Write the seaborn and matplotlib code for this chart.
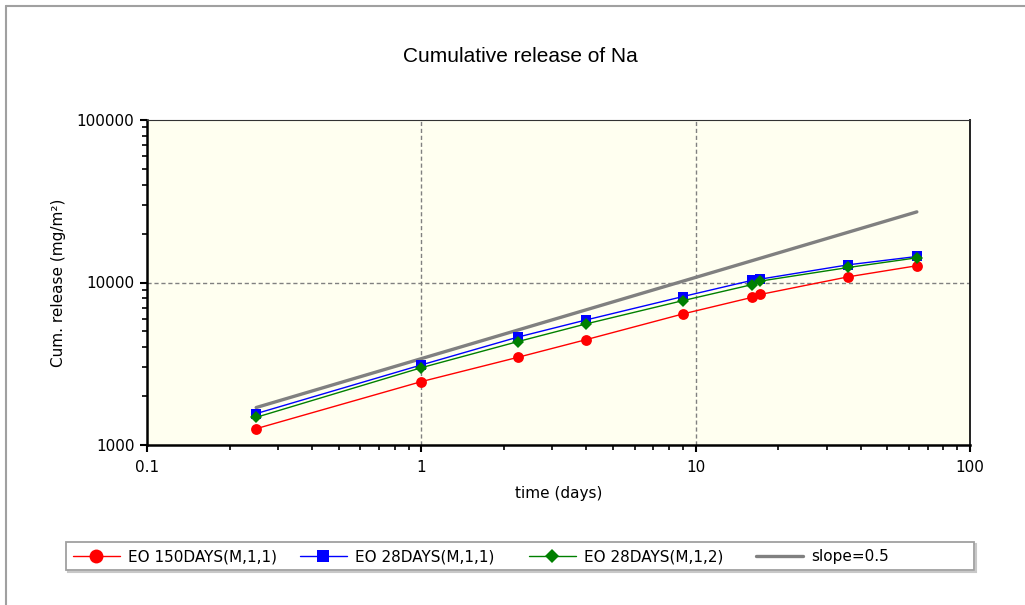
import numpy as np
import pandas as pd
import matplotlib
matplotlib.use("Agg")
import matplotlib.pyplot as plt
import matplotlib.ticker as mticker
from matplotlib.patches import Rectangle
import seaborn as sns

# Leaching times (days) and cumulative Na release (mg/m²)
time_days = [0.25, 1, 2.25, 4, 9, 16, 17.2, 36, 64]
eo150_m11 = [1260, 2455, 3465, 4456, 6410, 8090, 8440, 10840, 12680]
eo28_m11 = [1560, 3110, 4615, 5890, 8200, 10300, 10490, 12850, 14460]
eo28_m12 = [1480, 2990, 4330, 5570, 7740, 9690, 10200, 12370, 14190]
slope_time = [0.25, 64]
slope_values = [1700, 27200]

series_names = ["EO 150DAYS(M,1,1)", "EO 28DAYS(M,1,1)", "EO 28DAYS(M,1,2)"]
series_values = [eo150_m11, eo28_m11, eo28_m12]
x_ticks = [0.1, 1, 10, 100]
x_tick_labels = ["0.1", "1", "10", "100"]
y_ticks = [1000, 10000, 100000]
y_tick_labels = ["1000", "10000", "100000"]

sns.set_style("white")
plt.rcParams["font.family"] = ["DejaVu Sans"]
plt.rcParams["text.color"] = "black"
plt.rcParams["axes.labelcolor"] = "black"
plt.rcParams["xtick.color"] = "black"
plt.rcParams["ytick.color"] = "black"

W, H = 1025, 605
fig = plt.figure(figsize=(W / 100, H / 100), dpi=100)
ax = fig.add_axes([147 / W, 1 - 445 / H, 823 / W, 325 / H])
ax.set_facecolor("#FFFFF0")

styles = [
    dict(color="#FF0000", marker="o", markersize=7.8, legend_size=10),
    dict(color="#0000FF", marker="s", markersize=7.5, legend_size=9),
    dict(color="#008000", marker="D", markersize=6.0, legend_size=7.5),
]

for name, vals, st in zip(series_names, series_values, styles):
    df = pd.DataFrame({"time": time_days, "release": vals})
    sns.lineplot(data=df, x="time", y="release", ax=ax, label=name,
                 color=st["color"], marker=st["marker"],
                 markersize=st["markersize"], markeredgewidth=0,
                 linewidth=1.0, zorder=3)

slope_df = pd.DataFrame({"time": slope_time, "release": slope_values})
sns.lineplot(data=slope_df, x="time", y="release", ax=ax, label="slope=0.5",
             color="#808080", linewidth=2.4, zorder=2)

ax.set_xscale("log")
ax.set_yscale("log")
ax.set_xlim(0.1, 100)
ax.set_ylim(1000, 100000)

ax.xaxis.set_major_locator(mticker.FixedLocator(x_ticks))
ax.xaxis.set_major_formatter(mticker.FixedFormatter(x_tick_labels))
ax.yaxis.set_major_locator(mticker.FixedLocator(y_ticks))
ax.yaxis.set_major_formatter(mticker.FixedFormatter(y_tick_labels))
ax.xaxis.set_minor_locator(mticker.LogLocator(base=10, subs=np.arange(2, 10)))
ax.yaxis.set_minor_locator(mticker.LogLocator(base=10, subs=np.arange(2, 10)))
ax.xaxis.set_minor_formatter(mticker.NullFormatter())
ax.yaxis.set_minor_formatter(mticker.NullFormatter())

ax.tick_params(axis="both", which="major", direction="out", length=5, width=1.5,
               labelsize=11, color="black", labelcolor="black",
               bottom=True, left=True, pad=4)
ax.tick_params(axis="x", which="major", pad=6)
ax.tick_params(axis="both", which="minor", direction="out", length=3.5, width=1.2,
               color="black", bottom=True, left=True)

# Dashed grid at the decades inside the plot area
for xv in [1, 10]:
    ax.axvline(xv, color="#808080", linestyle=(0, (3, 2)), linewidth=1.0, zorder=1)
ax.axhline(10000, color="#808080", linestyle=(0, (3, 2)), linewidth=1.0, zorder=1)

for side in ["left", "bottom"]:
    ax.spines[side].set_linewidth(1.8)
    ax.spines[side].set_color("black")
ax.spines["top"].set_linewidth(0.8)
ax.spines["top"].set_color("#333333")
ax.spines["right"].set_linewidth(1.4)
ax.spines["right"].set_color("#222222")

ax.set_xlabel("time (days)", fontsize=11, labelpad=8, color="black")
ax.set_ylabel("Cum. release (mg/m²)", fontsize=11, labelpad=8, color="black")

fig.text(520 / W, 1 - 56 / H, "Cumulative release of Na", ha="center",
         va="center", fontsize=15, family="Liberation Sans", color="black")

# Legend: a boxed strip with four evenly placed entries
handles, labels = ax.get_legend_handles_labels()
ax.legend_.remove()
legend_y = 1 - 557 / H
entry_x = [73, 300, 529, 756]
legend_sizes = [st["legend_size"] for st in styles] + [None]
for h, lab, ex, ms in zip(handles, labels, entry_x, legend_sizes):
    leg = fig.legend([h], [lab], loc="center left",
                     bbox_to_anchor=(ex / W, legend_y), fontsize=11,
                     frameon=False, borderpad=0, borderaxespad=0,
                     handlelength=3.05, handletextpad=0.55, labelcolor="black")
    if ms is not None:
        leg.legend_handles[0].set_markersize(ms)

fig.add_artist(Rectangle((68 / W, 1 - 572 / H), 908 / W, 28 / H,
                         transform=fig.transFigure, facecolor="none",
                         edgecolor="#C8C8C8", linewidth=1.5, zorder=0))
fig.add_artist(Rectangle((66 / W, 1 - 570 / H), 908 / W, 28 / H,
                         transform=fig.transFigure, facecolor="white",
                         edgecolor="#A0A0A0", linewidth=1.3, zorder=0.5))

# Outer frame lines along the top and left edges
fig.add_artist(plt.Line2D([6 / W, 6 / W], [0, 1 - 6 / H],
                          transform=fig.transFigure, color="#A0A0A0", linewidth=1.5))
fig.add_artist(plt.Line2D([6 / W, 1], [1 - 6 / H, 1 - 6 / H],
                          transform=fig.transFigure, color="#A0A0A0", linewidth=1.5))

fig.savefig("out.png", dpi=100)
